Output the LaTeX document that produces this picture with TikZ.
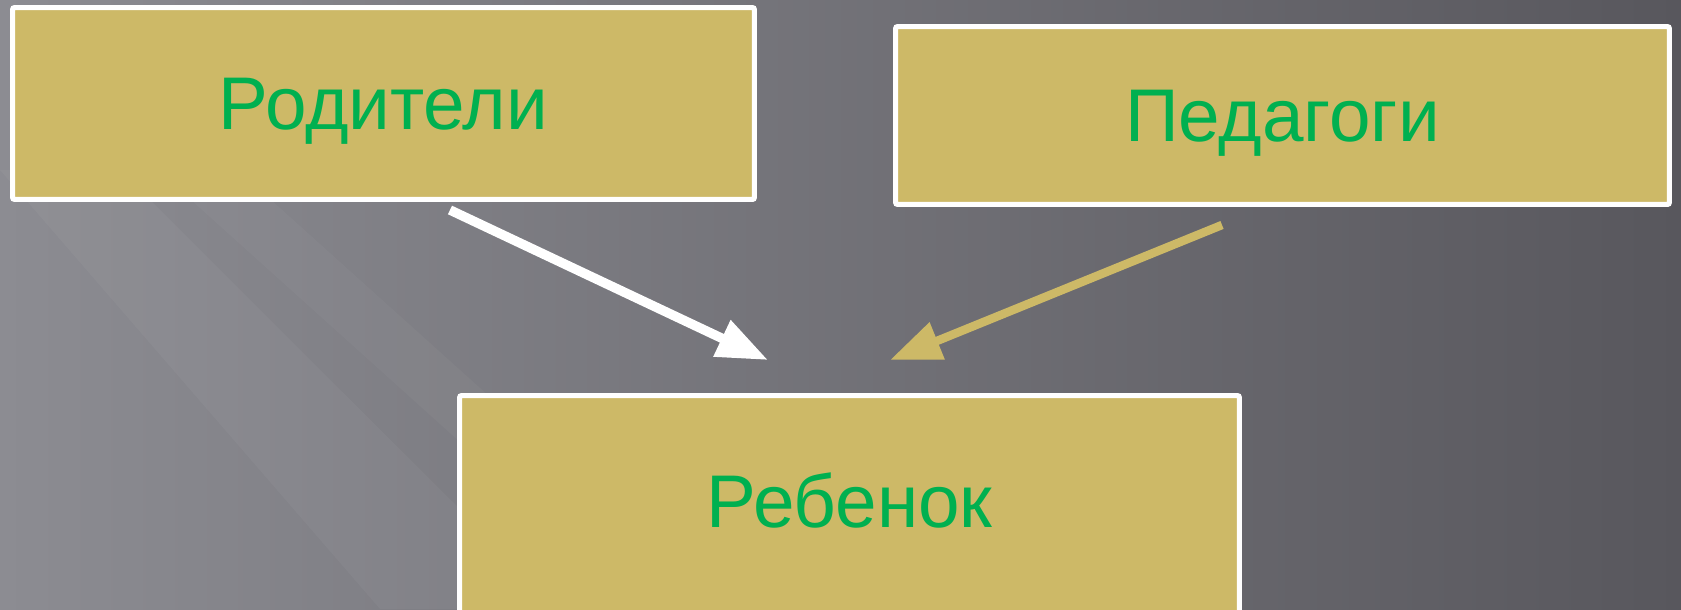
\documentclass[tikz,border=0pt]{standalone}
\usepackage{fontspec}
\setmainfont{Liberation Sans}
\usetikzlibrary{positioning,arrows.meta}
\definecolor{boxgold}{RGB}{205,185,103}
\definecolor{textgreen}{RGB}{0,176,80}
\definecolor{bgleft}{RGB}{140,140,146}
\definecolor{bgright}{RGB}{88,87,93}

\begin{document}
\begin{tikzpicture}[
    x=0.02cm, y=-0.02cm,
    block/.style={rectangle, draw=white, line width=0.1cm, fill=boxgold, rounded corners=0.04cm, text=textgreen, font=\fontsize{42.5}{50}\selectfont, text height=1.06cm, text depth=0pt},
    arrow/.style={-{Triangle[length=1.02cm, width=0.76cm]}, line width=0.19cm}
]
    % фон
    \useasboundingbox (0,0) rectangle (1681,609);
    \clip (0,0) rectangle (1681,609);
    \shade [left color=bgleft, right color=bgright] (0,0) rectangle (1681,609);
    \fill [white, opacity=0.035] (0,170) -- (120,170) -- (560,609) -- (380,609) -- cycle;
    \fill [white, opacity=0.03] (180,190) -- (260,190) -- (560,460) -- (480,460) -- cycle;

    % блоки
    \node [block, minimum width=14.84cm, minimum height=3.84cm] (parents) at (383.5,103.5) {Родители};
    \node [block, minimum width=15.48cm, minimum height=3.56cm] (teachers) at (1282.5,115.5) {Педагоги};
    \node [block, minimum width=15.6cm, minimum height=6.4cm, text depth=2.2cm] (child) at (849.5,555.5) {Ребенок};

    % стрелки
    \draw [arrow, white] ([xshift=1.33cm, yshift=-0.16cm]parents.south) -- ([xshift=-1.63cm, yshift=0.66cm]child.north);
    \draw [arrow, boxgold, line width=0.17cm] ([xshift=-1.21cm, yshift=-0.36cm]teachers.south) -- ([xshift=0.81cm, yshift=0.66cm]child.north);
\end{tikzpicture}
\end{document}
